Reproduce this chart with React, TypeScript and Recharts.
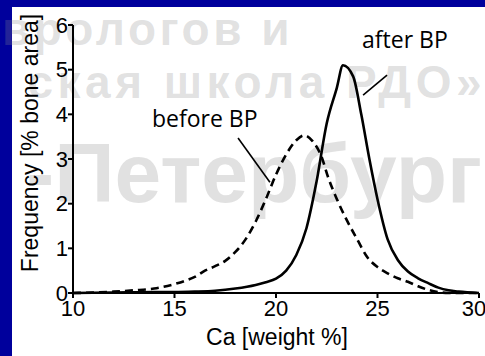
import React from 'react';
import { LineChart, Line, XAxis, YAxis, ReferenceLine, ReferenceDot } from 'recharts';

// Ca distribution (weight %) vs frequency (% bone area)
const beforeCa = [10, 11, 12, 13, 14, 15, 15.5, 16, 16.5, 17, 17.5, 18, 18.5, 19, 19.5, 20, 20.5, 21, 21.4, 21.8, 22.2, 22.6, 23, 23.5, 24, 24.5, 25, 25.5, 26, 26.5, 27, 27.5, 28, 28.5, 30];
const beforeFreq = [0, 0.01, 0.03, 0.06, 0.1, 0.2, 0.27, 0.36, 0.5, 0.6, 0.72, 0.92, 1.2, 1.6, 2.1, 2.65, 3.1, 3.42, 3.53, 3.4, 3.1, 2.55, 2.1, 1.62, 1.2, 0.8, 0.58, 0.44, 0.33, 0.25, 0.15, 0.07, 0.02, 0, 0];

const afterCa = [10, 12, 14, 15, 16, 17, 18, 19, 19.5, 20, 20.5, 21, 21.5, 22, 22.5, 23, 23.3, 23.8, 24.2, 24.6, 25, 25.5, 26, 26.5, 27, 27.5, 28, 28.5, 29, 30];
const afterFreq = [0, 0.01, 0.02, 0.02, 0.03, 0.05, 0.1, 0.18, 0.24, 0.32, 0.5, 0.85, 1.45, 2.5, 3.8, 4.6, 5.1, 4.85, 4.0, 3.0, 2.1, 1.2, 0.74, 0.48, 0.33, 0.22, 0.12, 0.06, 0.03, 0];

const xTicks = [10, 15, 20, 25, 30];
const yTicks = [0, 1, 2, 3, 4, 5, 6];

// annotation text anchors and leader lines, in data units
const labels = [
  { text: 'after BP', ca: 24.24, freq: 5.48 },
  { text: 'before BP', ca: 13.89, freq: 3.72 },
];
const leaders = [
  [{ x: 25.47, y: 4.88 }, { x: 24.29, y: 4.43 }],
  [{ x: 18.13, y: 3.47 }, { x: 19.7, y: 2.48 }],
];

const beforeData = beforeCa.map((ca, i) => ({ ca, freq: beforeFreq[i] }));
const afterData = afterCa.map((ca, i) => ({ ca, freq: afterFreq[i] }));

const axisFont = 'Liberation Sans, Arial, sans-serif';
const noteFont = '"Open Sans", sans-serif';

const App: React.FC = () => {
  return (
    <div style={{ position: 'absolute', left: 0, top: 0, width: 485, height: 356, background: '#00009c', overflow: 'hidden' }}>
      <div style={{ position: 'absolute', left: 12, top: 7, right: 0, bottom: 0, background: '#fff' }} />
      {/* watermark */}
      <svg width={485} height={356} style={{ position: 'absolute', left: 0, top: 0 }}>
        <g fill="#8c8c8c" fillOpacity={0.26} fontFamily={axisFont} fontWeight="bold">
          <text x={293} y={45} fontSize={46} letterSpacing={3.5} textAnchor="end">врологов и</text>
          <text x={486} y={98} fontSize={46} letterSpacing={4.5} textAnchor="end">ская школа РДО»</text>
          <text x={482} y={202} fontSize={84} textAnchor="end">-Петербург</text>
        </g>
      </svg>
      <div style={{ position: 'absolute', left: 0, top: 0 }}>
        <LineChart width={485} height={356} margin={{ top: 25, right: 6, bottom: 33, left: 43 }}>
          <XAxis
            dataKey="ca"
            type="number"
            domain={[10, 30]}
            ticks={xTicks}
            height={30}
            allowDataOverflow
            stroke="#000"
            strokeWidth={2}
            tickSize={5}
            tickMargin={2}
            tick={{ fill: '#000', fontSize: 22, fontFamily: axisFont }}
            label={{
              content: () => (
                <text x={277} y={337} textAnchor="middle" dominantBaseline="central" fontSize={23} fontFamily={axisFont} fill="#000">
                  Ca [weight %]
                </text>
              ),
            }}
          />
          <YAxis
            type="number"
            domain={[0, 6]}
            ticks={yTicks}
            width={30}
            stroke="#000"
            strokeWidth={2}
            tickSize={5}
            tickMargin={0}
            tick={{ fill: '#000', fontSize: 22, fontFamily: axisFont }}
            label={{
              content: () => (
                <text x={30} y={143} transform="rotate(-90 30 143)" textAnchor="middle" dominantBaseline="central" fontSize={23} fontFamily={axisFont} fill="#000">
                  Frequency [% bone area]
                </text>
              ),
            }}
          />
          {leaders.map((seg, i) => (
            <ReferenceLine key={i} segment={seg} stroke="#000" strokeWidth={1.6} ifOverflow="visible" />
          ))}
          {labels.map((l) => (
            <ReferenceDot
              key={l.text}
              x={l.ca}
              y={l.freq}
              r={0}
              ifOverflow="visible"
              shape={(p: any) => (
                <text x={p.cx} y={p.cy} fontSize={23} fontFamily={noteFont} fill="#000">
                  {l.text}
                </text>
              )}
            />
          ))}
          <Line
            data={beforeData}
            dataKey="freq"
            type="monotone"
            stroke="#000"
            strokeWidth={2.6}
            strokeDasharray="8 5"
            dot={false}
            isAnimationActive={false}
          />
          <Line
            data={afterData}
            dataKey="freq"
            type="monotone"
            stroke="#000"
            strokeWidth={2.6}
            dot={false}
            isAnimationActive={false}
          />
        </LineChart>
      </div>
    </div>
  );
};

export default App;
